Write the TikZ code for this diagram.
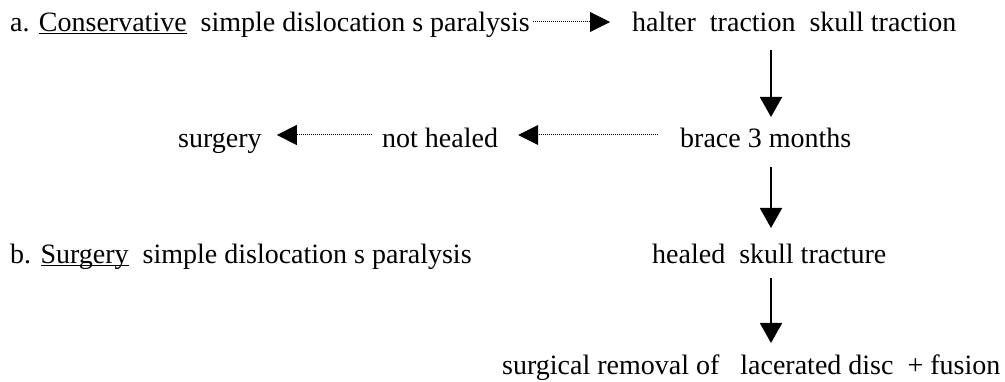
\documentclass[tikz,border=0pt]{standalone}
\usepackage{fontspec}
\setmainfont{Liberation Serif}
\usetikzlibrary{arrows.meta}
\newcommand\undl[1]{\leavevmode\setbox0\hbox{#1}\rlap{\rule[-2pt]{\wd0}{1.3pt}}\box0}
\begin{document}
\begin{tikzpicture}[x=1pt,y=-1pt]
\tikzstyle{every node}+=[inner sep=0pt,anchor=base west,font=\fontsize{28}{34}\selectfont]
\tikzstyle{dotarr}=[line width=1pt,dash pattern=on 1pt off 1pt,-{Triangle[length=20pt,width=20pt]}]
\tikzstyle{downarr}=[line width=1.8pt,-{Triangle[length=20pt,width=22pt]}]
\useasboundingbox (0,0) rectangle (1005,382);
\coordinate (colx) at (771,0);
% line a
\node (consA) at (10,32) {a. \undl{Conservative}\ \ simple dislocation s paralysis};
\node (trac) at (632,32) {halter\ \ traction\ \ skull traction};
\draw [dotarr] ([xshift=3pt,yshift=10pt]consA.base east) -- ([xshift=-22pt,yshift=10pt]trac.base west);
% middle row
\node (brace) at (680,148) {brace 3 months};
\node (noth) at (382,148) {not healed};
\node (surg) at (178,148) {surgery};
\draw [dotarr] ([xshift=-22pt,yshift=13pt]brace.base west) -- ([xshift=20pt,yshift=13pt]noth.base east);
\draw [dotarr] ([xshift=-10pt,yshift=13pt]noth.base west) -- ([xshift=15pt,yshift=13pt]surg.base east);
% line b
\node (surgB) at (10,264) {b. \undl{Surgery}\ \ simple dislocation s paralysis};
\node (heal) at (652,264) {healed\ \ skull tracture};
\node (remov) at (502,374) {surgical removal of\ \ \ lacerated disc\ \ + fusion};
\draw [downarr] ([yshift=-18pt]trac.base -| colx) -- ([yshift=31pt]brace.base -| colx);
\draw [downarr] ([yshift=-19pt]brace.base -| colx) -- ([yshift=36pt]heal.base -| colx);
\draw [downarr] ([yshift=-14pt]heal.base -| colx) -- ([yshift=31pt]remov.base -| colx);
\end{tikzpicture}
\end{document}
